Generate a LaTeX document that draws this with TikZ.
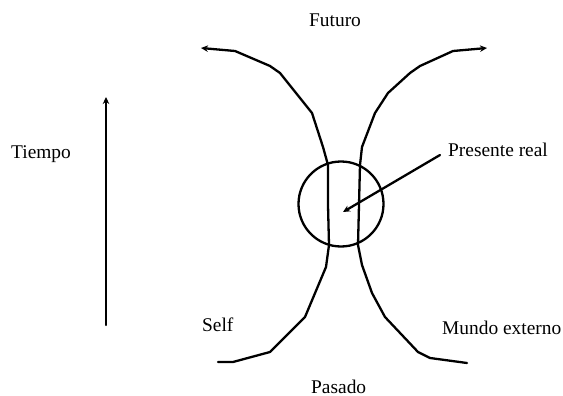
\documentclass[tikz,border=0pt]{standalone}
\usepackage{fontspec}
\setmainfont{Liberation Serif}
\usetikzlibrary{arrows.meta}
\begin{document}
\begin{tikzpicture}[x=1pt,y=-1pt,
  curve/.style={line width=2.3pt,line join=round,line cap=round},
  tip/.style={-{Stealth[length=7pt,width=6.5pt]}},
  lbl/.style={font=\fontsize{19.4}{22}\selectfont,inner sep=0pt,anchor=base west}]
\useasboundingbox (0,0) rectangle (563,396);
% text labels
\node[lbl] (futuro) at (309,27) {Futuro};
\node[lbl] (tiempo) at (11,158) {Tiempo};
\node[lbl] (presente) at (448,157) {Presente real};
\node[lbl] (self) at (202,331) {Self};
\node[lbl] (mundo) at (442,334) {Mundo externo};
\node[lbl] (pasado) at (311,393) {Pasado};
% left curve (Self)
\draw[curve,tip] (218,362) -- (233,362) -- (270,352) -- (305,317) -- (326,267) -- (329,245) -- (328,205) -- (328,165) -- (323,147) -- (312,113) -- (280,73) -- (270,66) -- (235,51) -- (201,48);
% right curve (Mundo externo)
\draw[curve,tip] (467,363) -- (430,358) -- (418,352) -- (385,317) -- (372,293) -- (362,265) -- (358,245) -- (359,205) -- (360,165) -- (362,147) -- (375,113) -- (388,93) -- (410,73) -- (420,66) -- (453,51) -- (487,48);
% circle
\node[draw,circle,line width=2.3pt,minimum size=85pt,inner sep=0pt] (present) at (341,204) {};
\coordinate (ptarget) at (343,212);
\coordinate (pstart) at (440,155);
\draw[curve,tip] (pstart) -- (ptarget);
% time arrow
\coordinate (tbot) at (106,325);
\coordinate (ttop) at (106,97);
\draw[curve,tip] (tbot) -- (ttop);
\end{tikzpicture}
\end{document}
